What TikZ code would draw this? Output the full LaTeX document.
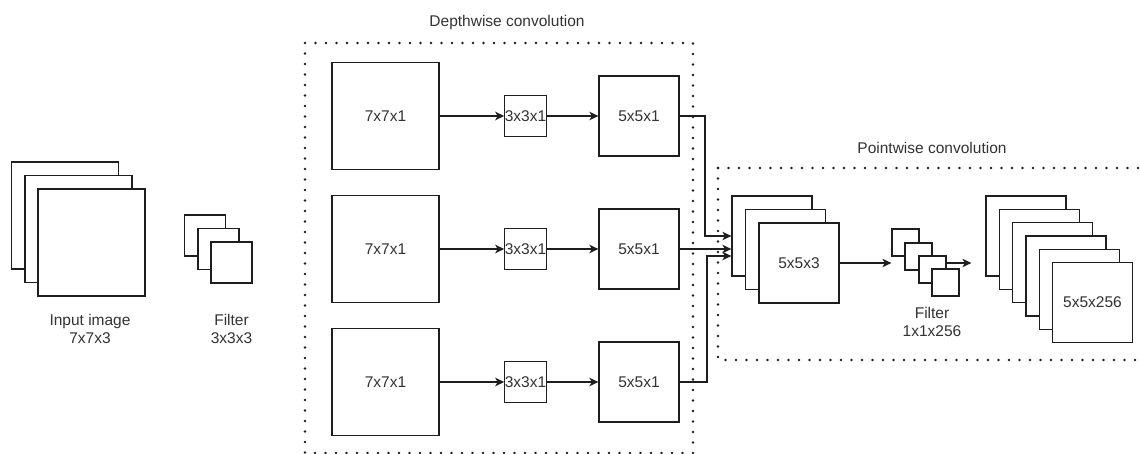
\documentclass[tikz,border=0pt]{standalone}
\usepackage{fontspec}
\setmainfont{Liberation Sans}
\usetikzlibrary{arrows.meta,calc}
\definecolor{linec}{HTML}{1E1E1E}
\definecolor{txtc}{HTML}{333333}
\newcommand\lblfont{\fontsize{15.5}{18}\selectfont}
\tikzset{
  sq/.style={draw=linec, line width=1.3pt, fill=white, minimum width=#1, minimum height=#1,
             inner sep=0pt, text=txtc, font=\lblfont},
  lbl/.style={text=txtc, font=\lblfont, align=center, inner sep=0pt},
  conn/.style={draw=linec, line width=1.3pt, -{Stealth[length=9pt,width=8.5pt,inset=2.5pt]}},
  dotline/.style={draw=linec, line width=2.8pt, line cap=round, dash pattern=on 0pt off 10.5pt},
}
\begin{document}
\begin{tikzpicture}[x=1pt,y=-1pt]
\useasboundingbox (0,0) rectangle (1140,454);
\fill[white] (0,0) rectangle (1140,454);

% Input image stack
\node[sq=107pt] (i1) at (65,215.5) {};
\node[sq=107pt] (i2) at (78.5,229) {};
\node[sq=107pt] (i3) at (91.5,242.5) {};
\node[lbl] (ilab) at (90,329) {Input image\\7x7x3};

% Filter 3x3x3
\node[sq=41pt] (g1) at (205,235.5) {};
\node[sq=41pt] (g2) at (218.5,249) {};
\node[sq=41pt] (g3) at (231.5,262.5) {};
\node[lbl] (glab) at (231.5,329) {Filter\\3x3x3};

% Depthwise box
\draw[dotline] (305,43) rectangle (693,453);
\node[lbl] (dtitle) at (507,22) {Depthwise convolution};

% Rows
\node[sq=107pt] (d1) at (385.5,116) {7x7x1};
\node[sq=41pt]  (f1) at (525.5,116) {3x3x1};
\node[sq=80pt]  (o1) at (639,116) {5x5x1};

\node[sq=107pt] (d2) at (385.5,249) {7x7x1};
\node[sq=41pt]  (f2) at (525.5,249) {3x3x1};
\node[sq=80pt]  (o2) at (639,249) {5x5x1};

\node[sq=107pt] (d3) at (385.5,382) {7x7x1};
\node[sq=41pt]  (f3) at (525.5,382) {3x3x1};
\node[sq=80pt]  (o3) at (639,382) {5x5x1};

\draw[conn] (d1.east) -- (f1.west);
\draw[conn] (f1.east) -- (o1.west);
\draw[conn] (d2.east) -- (f2.west);
\draw[conn] (f2.east) -- (o2.west);
\draw[conn] (d3.east) -- (f3.west);
\draw[conn] (f3.east) -- (o3.west);

% Pointwise box
\draw[dotline] (718,168) -- (1140,168);
\draw[dotline] (718,168) -- (718,360) -- (1140,360);
\node[lbl] (ptitle) at (932,148) {Pointwise convolution};

% 5x5x3 stack
\node[sq=80pt] (p1) at (772,236) {};
\node[sq=80pt] (p2) at (785.5,249.5) {};
\node[sq=80pt] (p3) at (799,263) {5x5x3};

% connectors into stack
\coordinate (j1) at (705,0);
\coordinate (j2) at (707,0);
\coordinate (bt) at ($(p1.west)+(0,20)$);
\draw[conn] (o1.east) -| (j1 |- p1.west) -- (p1.west);
\draw[conn] (o2.east) -- (p1.west |- o2.east);
\draw[conn] (o3.east) -| (j2 |- bt) -- (bt);

% Filter 1x1x256
\node[sq=27pt] (q1) at (905.5,242.5) {};
\node[sq=27pt] (q2) at (918.5,256.5) {};
\node[sq=27pt] (q3) at (932.5,269.5) {};
\node[sq=27pt] (q4) at (945.5,282.5) {};
\node[lbl] (qlab) at (932,322) {Filter\\1x1x256};

\draw[conn] (p3.east) -- (q1.west |- p3.east);

% Output stack
\node[sq=80pt] (r1) at (1026,236) {};
\node[sq=80pt] (r2) at (1039.3,249.3) {};
\node[sq=80pt] (r3) at (1052.6,262.6) {};
\node[sq=80pt] (r4) at (1065.9,275.9) {};
\node[sq=80pt] (r5) at (1079.2,289.2) {};
\node[sq=80pt] (r6) at (1092.5,302.5) {5x5x256};

\coordinate (qe) at ($(r1.west |- p3.east)+(-14,0)$);
\draw[conn] (q3.east |- p3.east) -- (qe);
\end{tikzpicture}
\end{document}
